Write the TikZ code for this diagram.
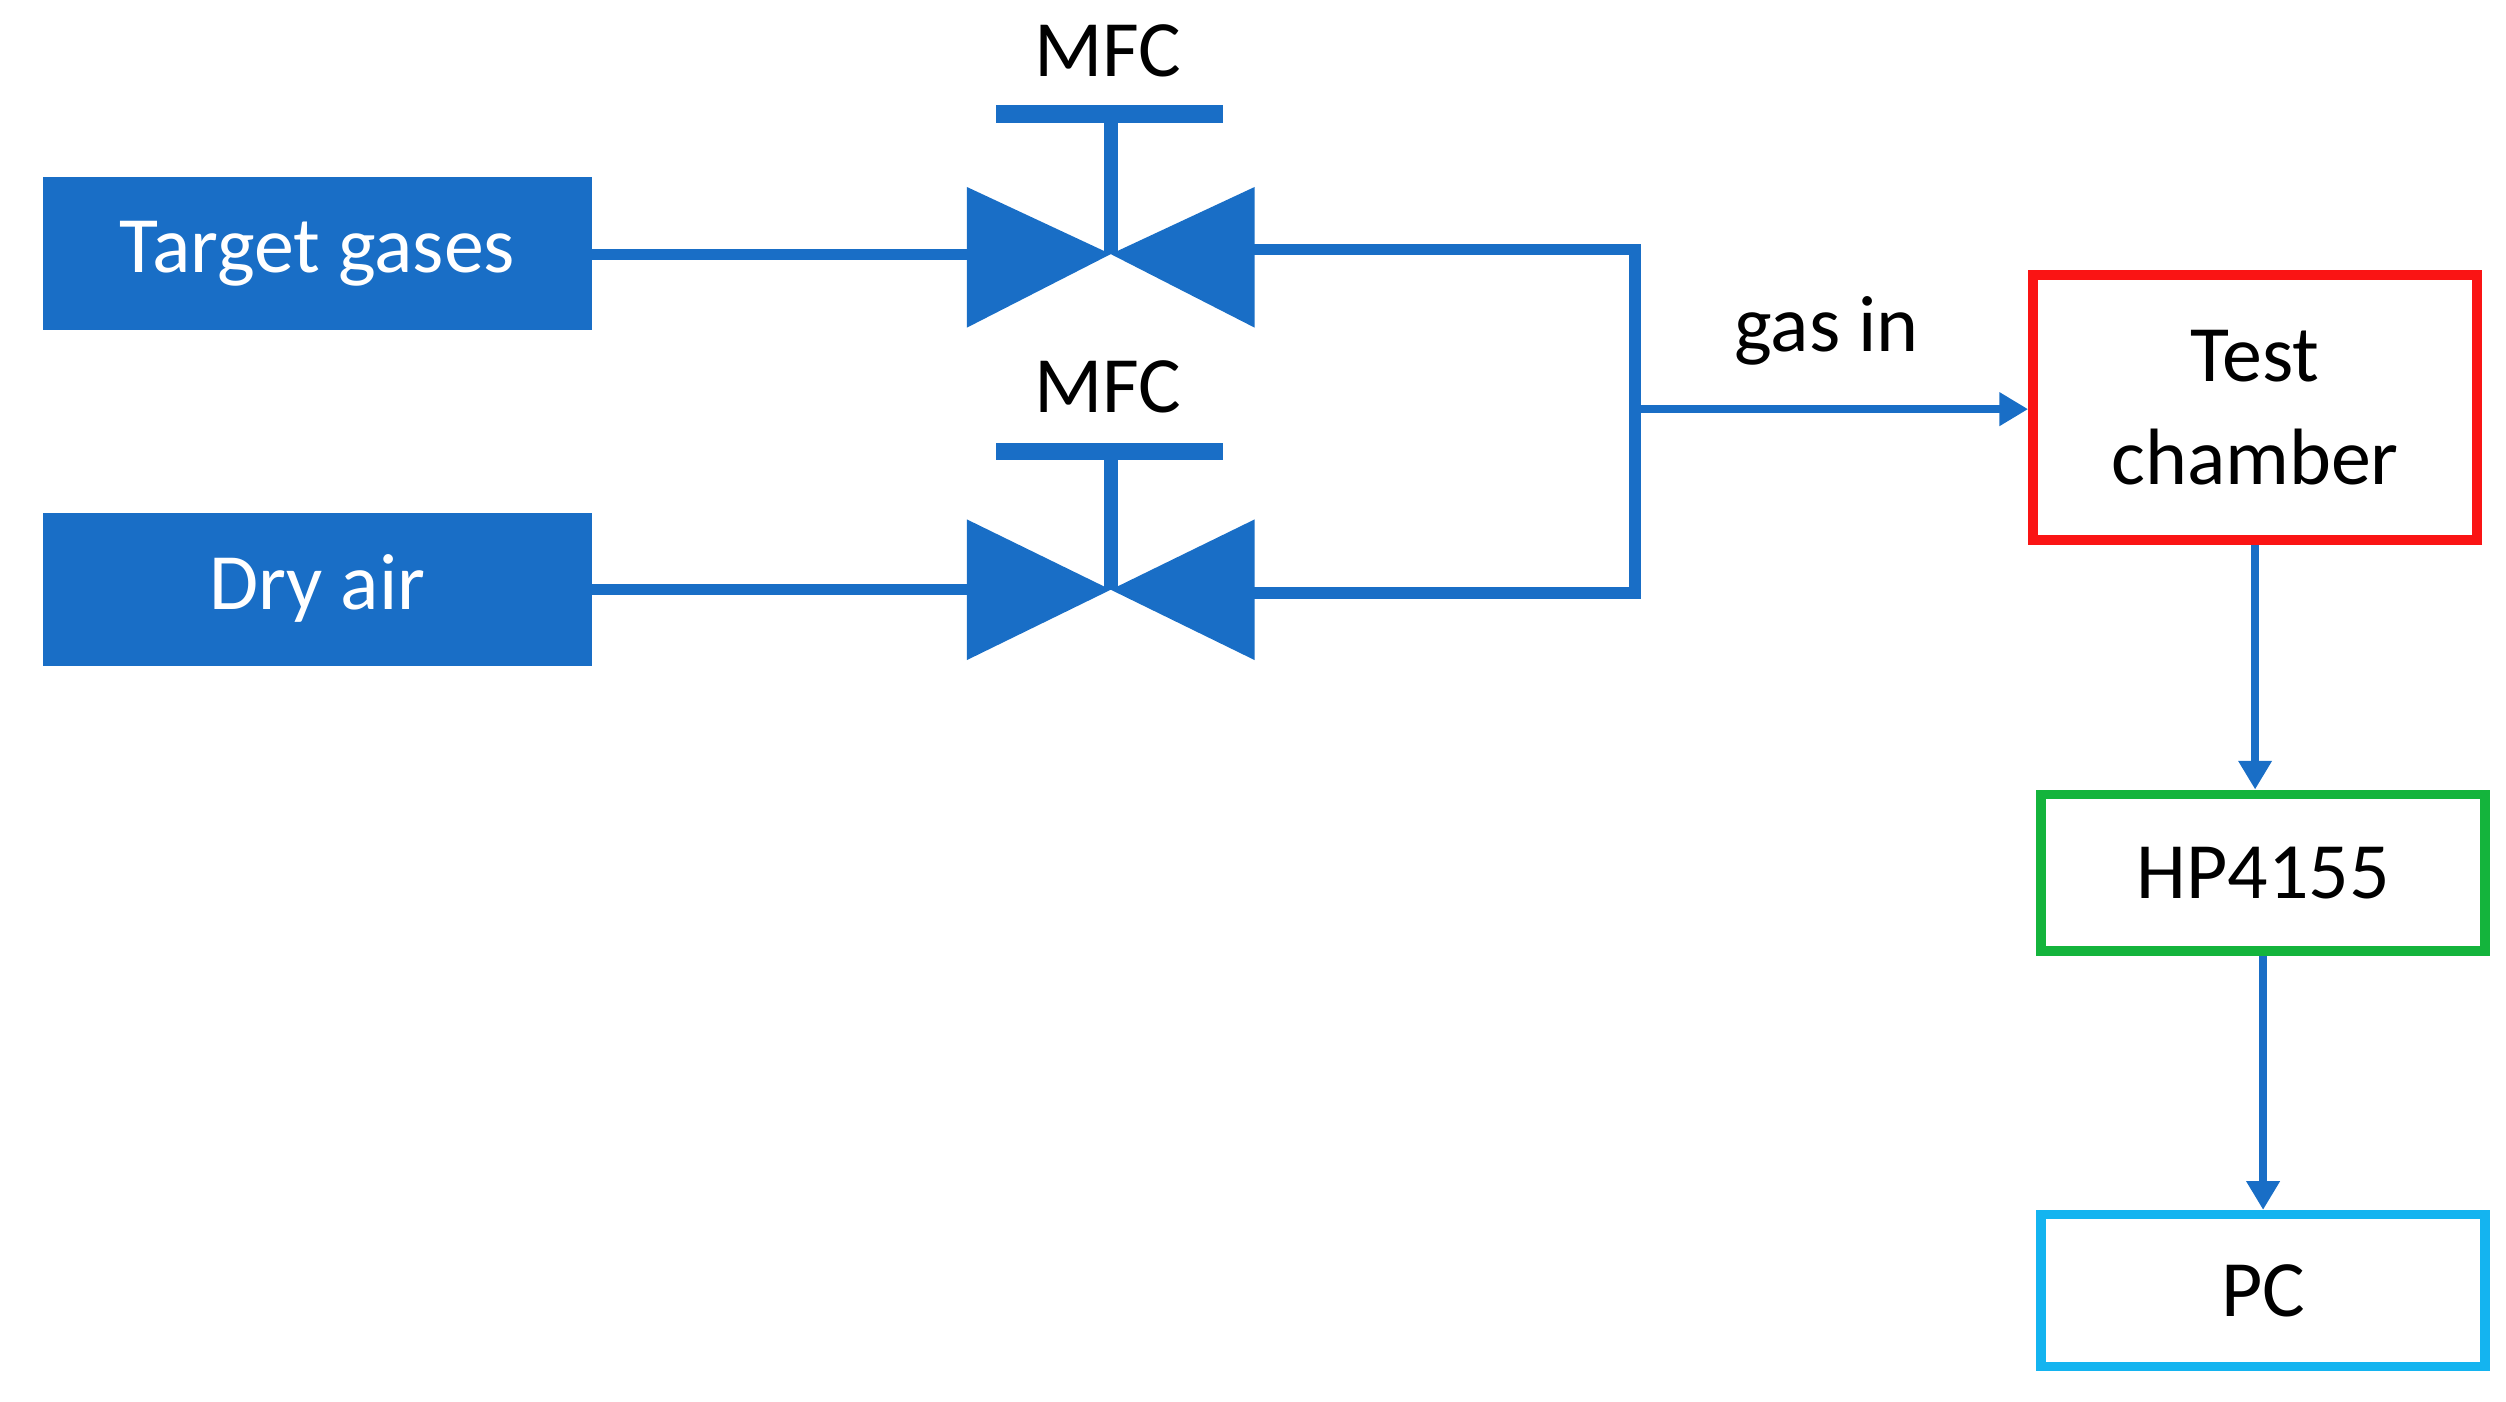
\documentclass[tikz,border=0pt]{standalone}
\usepackage{fontspec}
\setmainfont{Carlito}
\usetikzlibrary{arrows.meta}
\definecolor{bl}{RGB}{25,110,198}
\definecolor{rd}{RGB}{250,20,20}
\definecolor{gr}{RGB}{20,180,60}
\definecolor{cy}{RGB}{20,180,240}
\begin{document}
\begin{tikzpicture}[x=1pt,y=-1pt,
  txt/.style={font=\fontsize{50}{60}\selectfont},
  pipe/.style={bl,line width=7pt},
  arr/.style={bl,line width=5pt,-{Triangle[length=18pt,width=20pt]}},
  src/.style={fill=bl,draw=bl,text=white,minimum width=343pt,minimum height=95pt,inner sep=0pt,font=\fontsize{50}{60}\selectfont},
  box/.style={draw,line width=6pt,fill=white,minimum width=278pt,inner sep=0pt,font=\fontsize{50}{60}\selectfont,align=center}]
\useasboundingbox (0,0) rectangle (1568,877);
\node[src] (tg) at (198.5,158.5) {Target gases};
\node[src] (da) at (198.5,368.5) {Dry air};
\node[box,draw=rd,minimum height=166pt] (tc) at (1411,255) {Test\\[4pt]chamber};
\node[box,draw=gr,minimum height=98pt] (hp) at (1416,546) {HP4155};
\node[box,draw=cy,minimum height=95pt] (pc) at (1416,807.5) {PC};
% valve 1
\coordinate (v1) at (695,159);
\draw[pipe] (tg.east|-v1) -- (605,159);
\fill[bl] (605,117) -- (605,205) -- (v1) -- cycle;
\fill[bl] (785,117) -- (785,205) -- (v1) -- cycle;
\draw[bl,line width=9pt] (v1) -- (695,72);
\fill[bl] (623,66) rectangle (765,77);
\node[txt] (m1) at (693,32) {MFC};
% valve 2
\coordinate (v2) at (695,369);
\draw[pipe] (da.east|-v2) -- (605,369);
\fill[bl] (605,325) -- (605,413) -- (v2) -- cycle;
\fill[bl] (785,325) -- (785,413) -- (v2) -- cycle;
\draw[bl,line width=9pt] (v2) -- (695,282);
\fill[bl] (623,277) rectangle (765,288);
\node[txt] (m2) at (693,242) {MFC};
% merge
\draw[pipe] (780,156) -- (1023,156) -- (1023,371) -- (780,371);
\coordinate (j) at (1023,256);
\draw[arr] (j) -- (tc.west|-j);
\node[txt] (gi) at (1143,207) {gas in};
\draw[arr] (tc.south) -- (hp.north-|tc.south);
\draw[arr] (hp.south) -- (pc.north);
\end{tikzpicture}
\end{document}
